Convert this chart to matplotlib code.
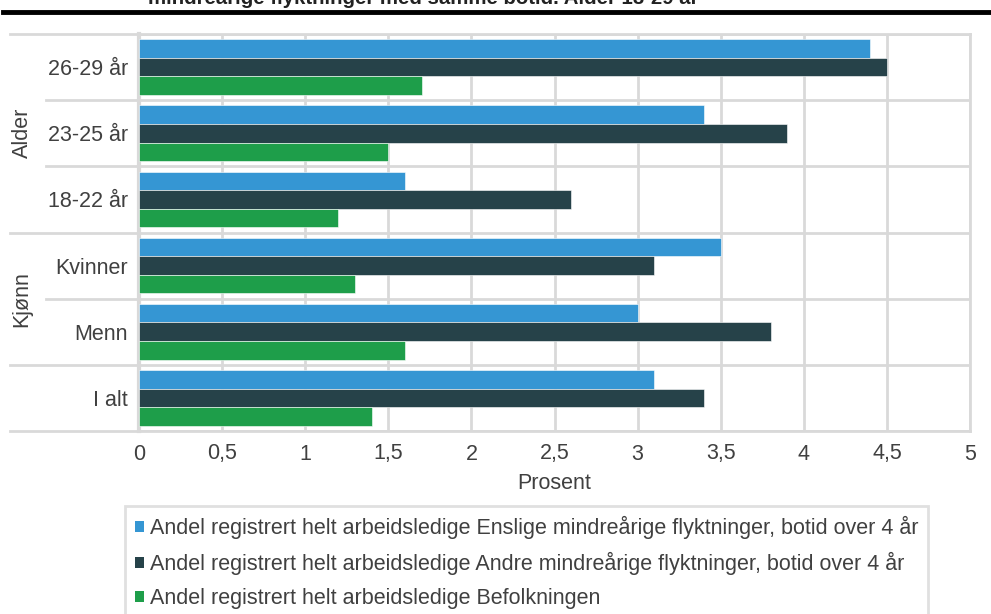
import matplotlib
matplotlib.use("Agg")
import matplotlib.pyplot as plt
import numpy as np
from matplotlib.lines import Line2D
from matplotlib.patches import Patch

plt.rcParams['font.family'] = ['Liberation Sans', 'DejaVu Sans']

categories = ["I alt", "Menn", "Kvinner", "18-22 år", "23-25 år", "26-29 år"]
enslige = [3.1, 3.0, 3.5, 1.6, 3.4, 4.4]
andre = [3.4, 3.8, 3.1, 2.6, 3.9, 4.5]
befolkningen = [1.4, 1.6, 1.3, 1.2, 1.5, 1.7]
series_labels = [
    "Andel registrert helt arbeidsledige Enslige mindreårige flyktninger, botid over 4 år",
    "Andel registrert helt arbeidsledige Andre mindreårige flyktninger, botid over 4 år",
    "Andel registrert helt arbeidsledige Befolkningen",
]
xticks = [0, 0.5, 1, 1.5, 2, 2.5, 3, 3.5, 4, 4.5, 5]
xtick_labels = ["0", "0,5", "1", "1,5", "2", "2,5", "3", "3,5", "4", "4,5", "5"]
title_text = "mindreårige flyktninger med samme botid. Alder 18-29 år"

colors = ["#3596d3", "#264249", "#1e9e4a"]
grid_c = "#d9d9d9"
text_c = "#404040"
FS = 15.5

W, H = 991, 614
fig = plt.figure(figsize=(W / 100, H / 100), dpi=100)

def fx(px):
    return px / W

def fy(py):
    return 1 - py / H

x0, x1, y0, y1 = 139, 970, 34, 431
ax = fig.add_axes([fx(x0), fy(y1), fx(x1) - fx(x0), fy(y0) - fy(y1)])

y = np.arange(len(categories))
h = 0.28
for vals, off, c in zip([enslige, andre, befolkningen], [h, 0, -h], colors):
    ax.barh(y + off, vals, height=h, color=c, edgecolor="white", linewidth=0.4, zorder=3)

ax.set_xlim(0, 5)
ax.set_ylim(-0.5, len(categories) - 0.5)
ax.set_xticks(xticks)
ax.set_xticklabels(xtick_labels)
ax.set_yticks(y)
ax.set_yticklabels(categories)
ax.set_yticks(np.arange(-0.5, len(categories)), minor=True)
ax.tick_params(axis="both", which="both", length=0, labelsize=FS, labelcolor=text_c)
ax.tick_params(axis="x", pad=9)
ax.tick_params(axis="y", pad=8)
ax.grid(axis="x", color=grid_c, linewidth=2, zorder=0)
ax.grid(axis="y", which="minor", color=grid_c, linewidth=2, zorder=0)
ax.grid(axis="y", which="major", visible=False)
for s in ax.spines.values():
    s.set_color(grid_c)
    s.set_linewidth(2)
ax.spines["left"].set_linewidth(3)
ax.set_xlabel("Prosent", fontsize=FS, color=text_c, labelpad=6)

# left category separators
trans = matplotlib.transforms.blended_transform_factory(ax.transAxes, ax.transData)
short_x = (46 - x0) / (x1 - x0)
long_x = (10 - x0) / (x1 - x0)
for b in [1.5, 3.5, 4.5]:
    ax.plot([short_x, 0], [b, b], transform=trans, color=grid_c, lw=2, clip_on=False)
for b in [-0.5, 0.5, 2.5, 5.5]:
    ax.plot([long_x, 0], [b, b], transform=trans, color=grid_c, lw=2, clip_on=False)

# group labels
ax.text((22 - x0) / (x1 - x0), 4.0, "Alder", transform=trans, rotation=90,
        ha="center", va="center", fontsize=FS, color=text_c)
ax.text((22 - x0) / (x1 - x0), 1.5, "Kjønn", transform=trans, rotation=90,
        ha="center", va="center", fontsize=FS, color=text_c)

# cut-off title and rule
fig.text(fx(148), fy(4), title_text, fontsize=14.7, fontweight="bold",
         color="#222222", ha="left", va="baseline")
fig.add_artist(Line2D([fx(3), 1], [fy(12), fy(12)], color="black", lw=3.5))

handles = [Patch(facecolor=c, edgecolor="none") for c in colors]
leg = fig.legend(handles, series_labels, loc="upper left",
                 bbox_to_anchor=(fx(125), fy(506)), frameon=True, fontsize=FS,
                 handlelength=0.42, handleheight=0.42, handletextpad=0.3,
                 labelspacing=0.6, borderpad=0.45, borderaxespad=0,
                 fancybox=False, labelcolor=text_c)
leg.get_frame().set_edgecolor(grid_c)
leg.get_frame().set_linewidth(2)

fig.savefig("out.png", dpi=100)
